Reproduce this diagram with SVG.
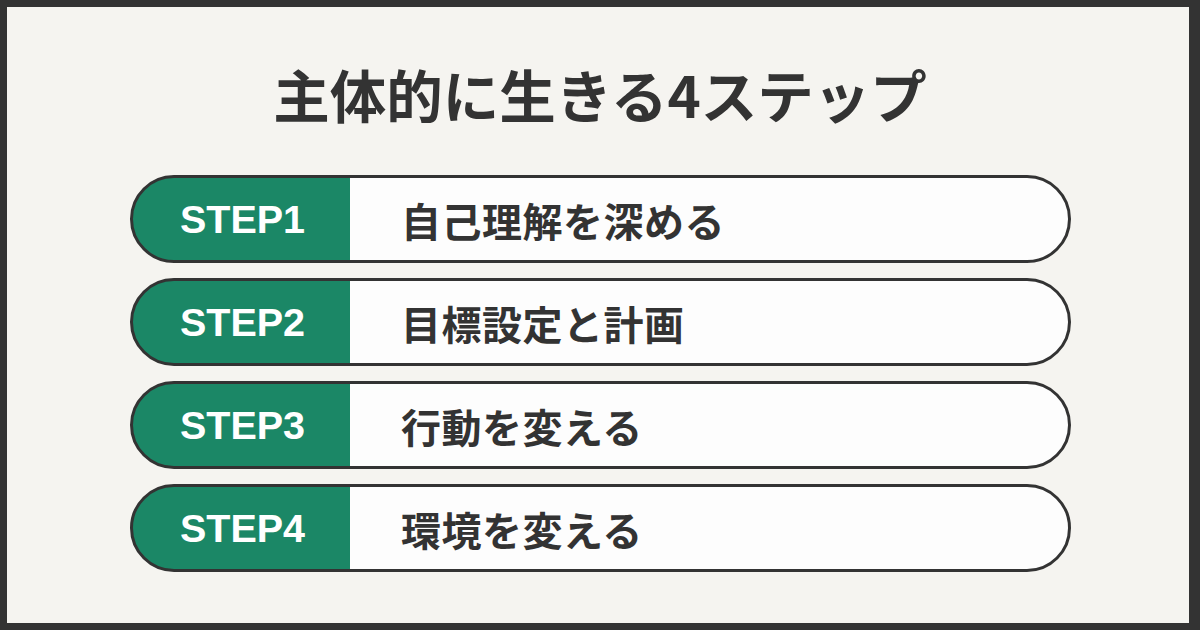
<svg xmlns="http://www.w3.org/2000/svg" width="1200" height="630" viewBox="0 0 1200 630">
<defs>
<style>
.title{font-family:"Noto Sans CJK JP","Noto Sans CJK SC",sans-serif;font-weight:700;font-size:56.5px;fill:#333333;text-anchor:middle}
.pill{fill:#fdfdfd}
.outline{fill:none;stroke:#333333;stroke-width:3}
.green{fill:#1b8766}
.step{font-family:"Liberation Sans",Arial,sans-serif;font-weight:700;font-size:39.5px;fill:#ffffff;text-anchor:middle}
.label{font-family:"Noto Sans CJK JP","Noto Sans CJK SC",sans-serif;font-weight:700;font-size:40px;letter-spacing:0.5px;fill:#333333}
</style>
<clipPath id="c1"><rect x="131.5" y="176.5" width="938" height="85" rx="42.5"/></clipPath>
<clipPath id="c2"><rect x="131.5" y="279.5" width="938" height="85" rx="42.5"/></clipPath>
<clipPath id="c3"><rect x="131.5" y="382.5" width="938" height="85" rx="42.5"/></clipPath>
<clipPath id="c4"><rect x="131.5" y="485.5" width="938" height="85" rx="42.5"/></clipPath>
</defs>
<rect x="0" y="0" width="1200" height="630" fill="#333333"/>
<rect x="7" y="7" width="1182" height="616" fill="#f5f4f0"/>
<text class="title" x="600" y="118">主体的に生きる4ステップ</text>
<g id="step1">
<rect class="pill" x="131.5" y="176.5" width="938" height="85" rx="42.5"/>
<rect class="green" x="128" y="174" width="222" height="90" clip-path="url(#c1)"/>
<rect class="outline" x="131.5" y="176.5" width="938" height="85" rx="42.5"/>
<text class="step" x="242.5" y="232.5">STEP1</text>
<text class="label" x="401" y="237">自己理解を深める</text>
</g>
<g id="step2">
<rect class="pill" x="131.5" y="279.5" width="938" height="85" rx="42.5"/>
<rect class="green" x="128" y="277" width="222" height="90" clip-path="url(#c2)"/>
<rect class="outline" x="131.5" y="279.5" width="938" height="85" rx="42.5"/>
<text class="step" x="242.5" y="335.5">STEP2</text>
<text class="label" x="401" y="340">目標設定と計画</text>
</g>
<g id="step3">
<rect class="pill" x="131.5" y="382.5" width="938" height="85" rx="42.5"/>
<rect class="green" x="128" y="380" width="222" height="90" clip-path="url(#c3)"/>
<rect class="outline" x="131.5" y="382.5" width="938" height="85" rx="42.5"/>
<text class="step" x="242.5" y="438.5">STEP3</text>
<text class="label" x="401" y="443">行動を変える</text>
</g>
<g id="step4">
<rect class="pill" x="131.5" y="485.5" width="938" height="85" rx="42.5"/>
<rect class="green" x="128" y="483" width="222" height="90" clip-path="url(#c4)"/>
<rect class="outline" x="131.5" y="485.5" width="938" height="85" rx="42.5"/>
<text class="step" x="242.5" y="541.5">STEP4</text>
<text class="label" x="401" y="546">環境を変える</text>
</g>
<g id="connectors"></g>
</svg>
